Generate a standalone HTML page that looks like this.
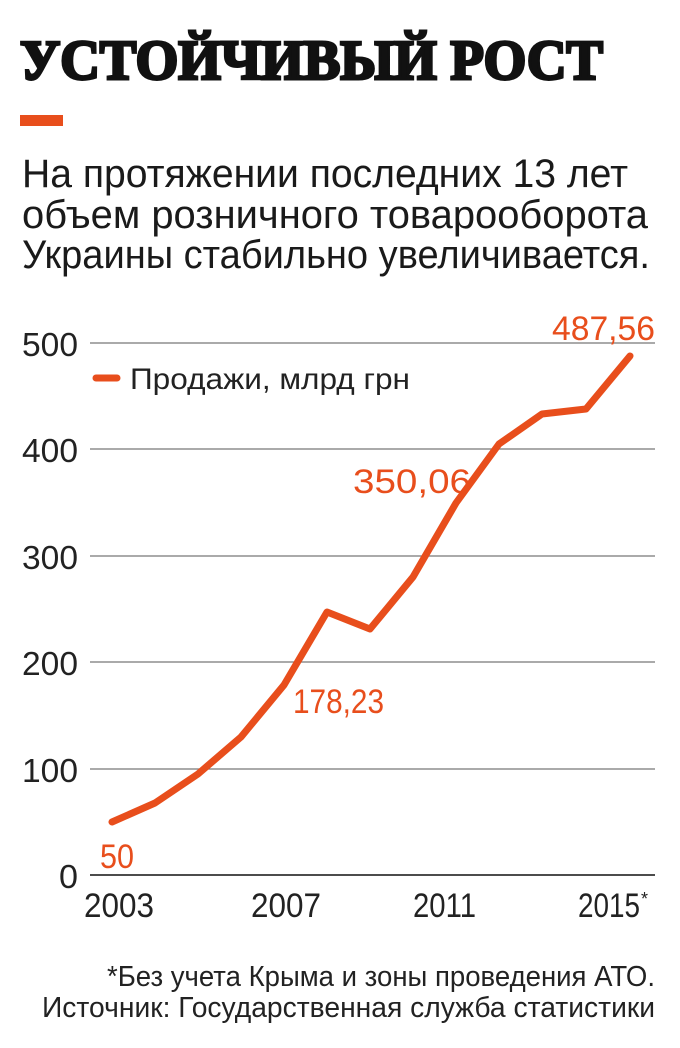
<!DOCTYPE html>
<html><head><meta charset="utf-8"><style>
html,body{margin:0;padding:0;background:#fff;}
svg{display:block;}
</style></head><body>
<svg width="680" height="1048" xmlns="http://www.w3.org/2000/svg" font-family="Liberation Sans, DejaVu Sans, sans-serif">
<text x="20" y="79" font-family="Liberation Serif, serif" font-weight="bold" font-size="56" textLength="583" lengthAdjust="spacingAndGlyphs" fill="#111" stroke="#111" stroke-width="3">УСТОЙЧИВЫЙ РОСТ</text>
<rect x="20" y="115" width="43" height="11" fill="#e84e1c"/>
<g font-size="40" fill="#1a1a1a">
<text x="22" y="187" textLength="606" lengthAdjust="spacingAndGlyphs">На протяжении последних 13 лет</text>
<text x="22" y="228" textLength="626" lengthAdjust="spacingAndGlyphs">объем розничного товарооборота</text>
<text x="22" y="268" textLength="628" lengthAdjust="spacingAndGlyphs">Украины стабильно увеличивается.</text>
</g>
<g stroke="#777" stroke-width="1.3">
<line x1="90" x2="655" y1="343" y2="343"/>
<line x1="90" x2="655" y1="449" y2="449"/>
<line x1="90" x2="655" y1="556" y2="556"/>
<line x1="90" x2="655" y1="662" y2="662"/>
<line x1="90" x2="655" y1="769" y2="769"/>
</g>
<line x1="90" x2="655" y1="875" y2="875" stroke="#333" stroke-width="1.8"/>
<g font-size="33" fill="#222" text-anchor="end">
<text x="78" y="356" textLength="56" lengthAdjust="spacingAndGlyphs">500</text>
<text x="78" y="462" textLength="56" lengthAdjust="spacingAndGlyphs">400</text>
<text x="78" y="569" textLength="56" lengthAdjust="spacingAndGlyphs">300</text>
<text x="78" y="675" textLength="56" lengthAdjust="spacingAndGlyphs">200</text>
<text x="78" y="782" textLength="56" lengthAdjust="spacingAndGlyphs">100</text>
<text x="78" y="888" textLength="19" lengthAdjust="spacingAndGlyphs">0</text>
</g>
<g font-size="34" fill="#222">
<text x="84" y="917" textLength="70" lengthAdjust="spacingAndGlyphs">2003</text>
<text x="251" y="917" textLength="70" lengthAdjust="spacingAndGlyphs">2007</text>
<text x="413" y="917" textLength="63" lengthAdjust="spacingAndGlyphs">2011</text>
<text x="578" y="917" textLength="62" lengthAdjust="spacingAndGlyphs">2015</text>
<text x="641" y="905" font-size="18">*</text>
</g>
<line x1="96" x2="117" y1="378" y2="378" stroke="#e84e1c" stroke-width="7" stroke-linecap="round"/>
<text x="130" y="389" font-size="30" fill="#222" textLength="280" lengthAdjust="spacingAndGlyphs">Продажи, млрд грн</text>
<polyline fill="none" stroke="#e84e1c" stroke-width="7" stroke-linejoin="round" stroke-linecap="round"
points="112,822 155,803 198,774 241,737 284,685 327,612 370,629 413,577 456,503 499,444 542,414 586,409 630,356"/>
<g font-size="34" fill="#e84e1c">
<text x="552" y="340" textLength="103" lengthAdjust="spacingAndGlyphs">487,56</text>
<text x="353" y="493" textLength="118" lengthAdjust="spacingAndGlyphs">350,06</text>
<text x="293" y="713" textLength="91" lengthAdjust="spacingAndGlyphs">178,23</text>
<text x="100" y="868" textLength="34" lengthAdjust="spacingAndGlyphs">50</text>
</g>
<g font-size="29" fill="#222" text-anchor="end">
<text x="655" y="986" textLength="548" lengthAdjust="spacingAndGlyphs">*Без учета Крыма и зоны проведения АТО.</text>
<text x="655" y="1017" textLength="613" lengthAdjust="spacingAndGlyphs">Источник: Государственная служба статистики</text>
</g>
</svg>
</body></html>
